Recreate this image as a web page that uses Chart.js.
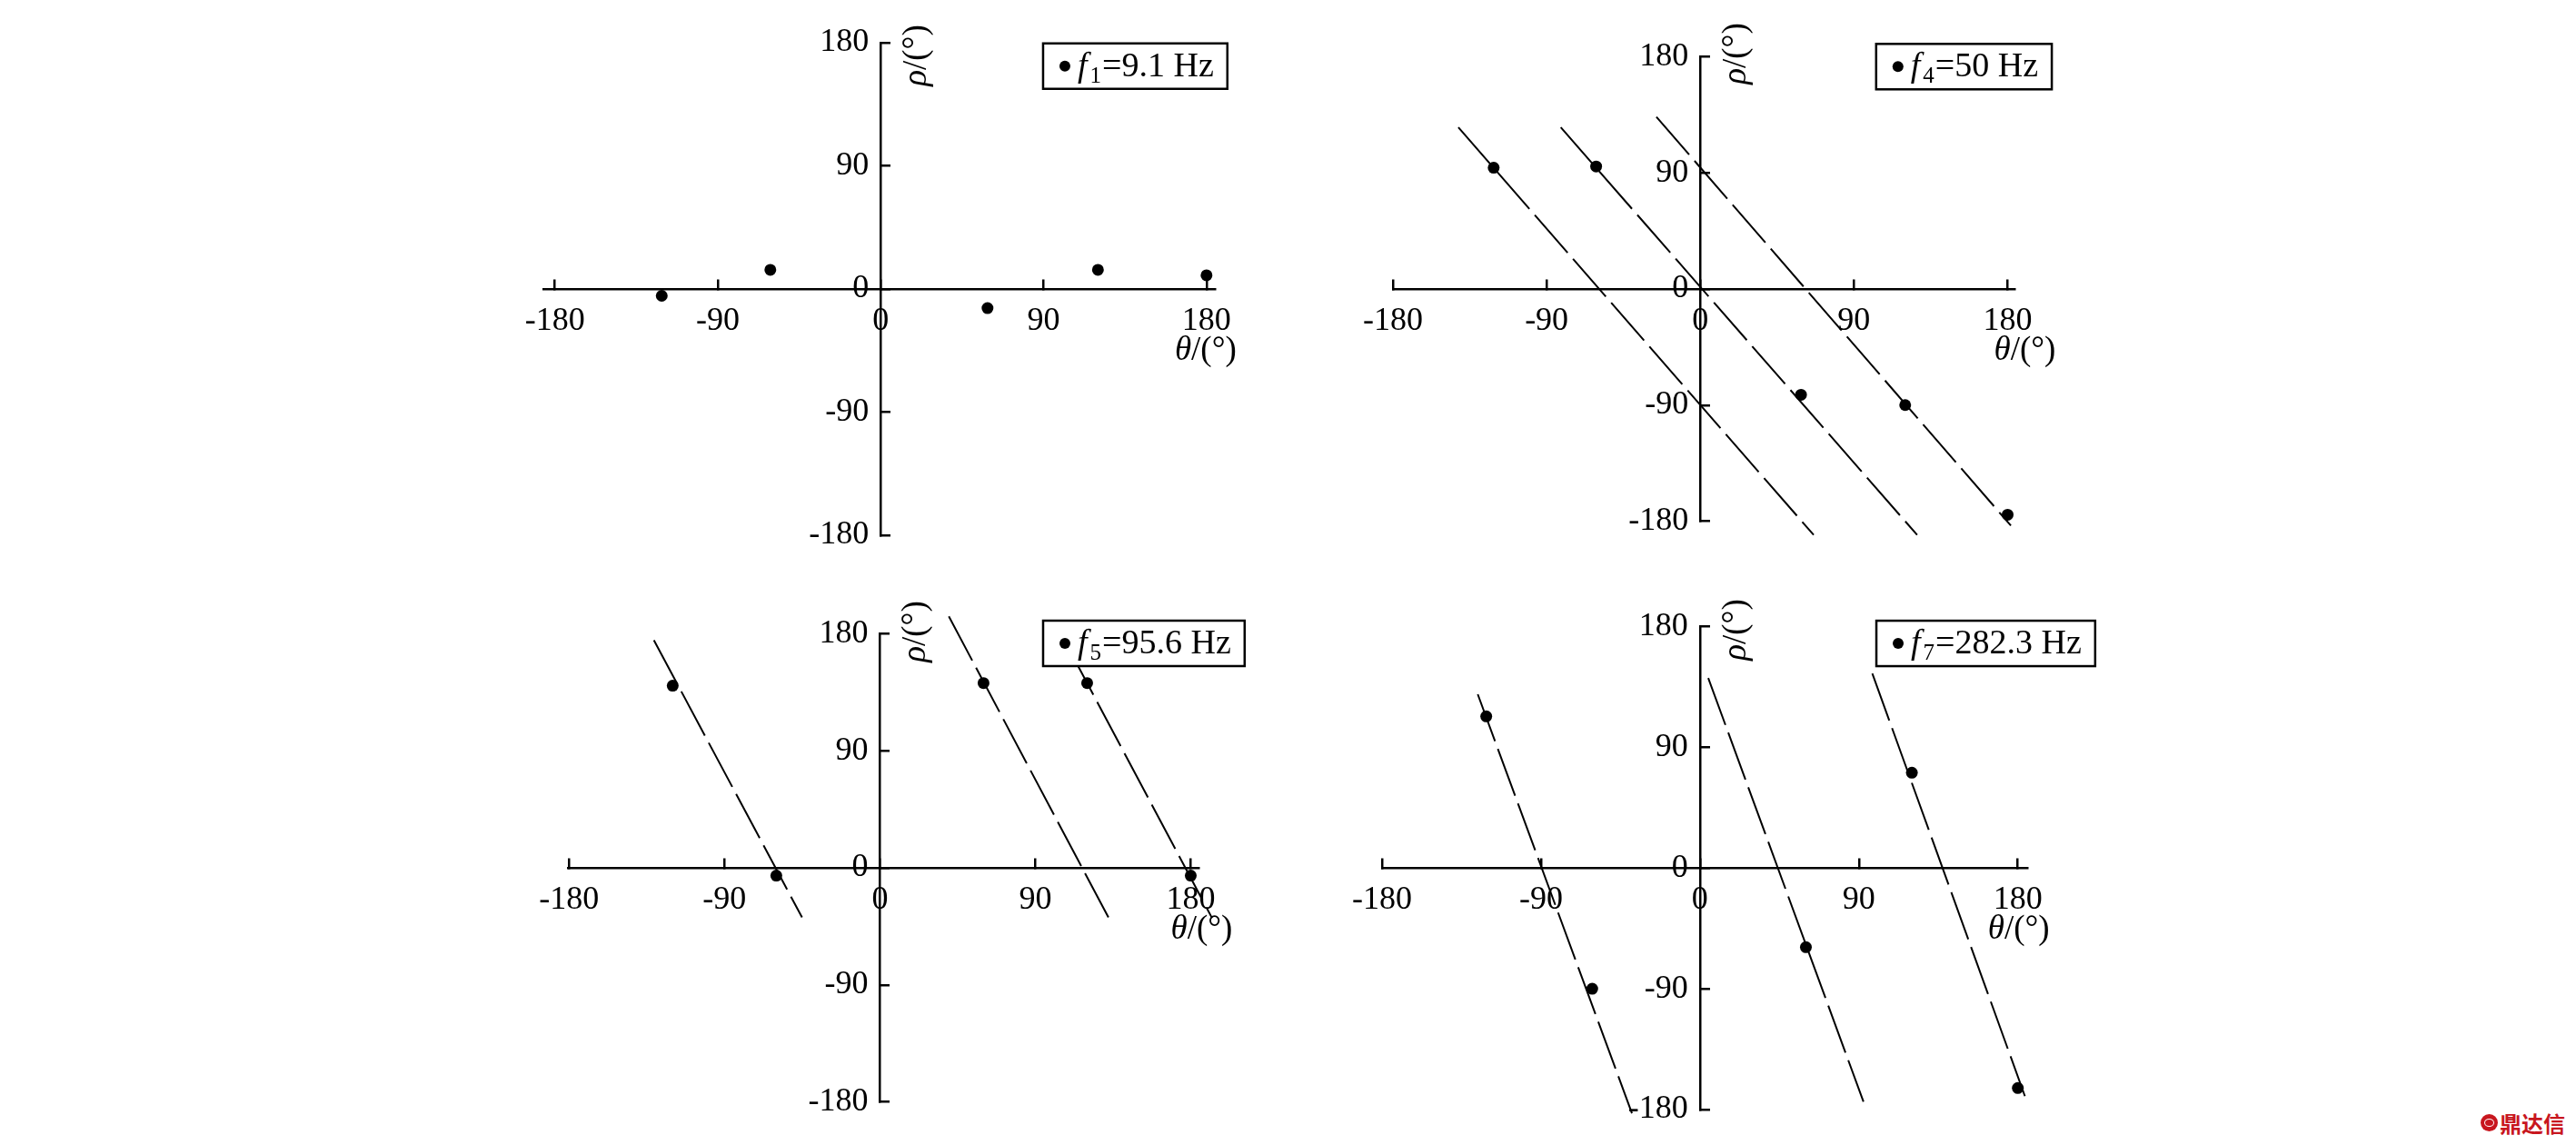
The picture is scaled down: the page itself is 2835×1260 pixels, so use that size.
<!DOCTYPE html>
<html><head><meta charset="utf-8">
<script src="https://cdn.jsdelivr.net/npm/chart.js@4.4.1/dist/chart.umd.min.js"></script>
<style>
html,body{margin:0;padding:0;background:#fff;}
body{width:2835px;height:1260px;position:relative;overflow:hidden;}
canvas{position:absolute;}
#wm{position:absolute;left:2730px;top:1221px;height:28px;display:flex;align-items:center;font-family:"Noto Sans CJK SC";font-weight:700;font-size:24px;color:#c8161e;}
#wm .logo{display:inline-block;width:19px;height:19px;border-radius:50%;background:#c8161e;margin-right:2px;position:relative;}
#wm .logo:after{content:"";position:absolute;left:4px;top:5px;width:11px;height:9px;border-radius:50%;border:1.5px solid #fff;box-sizing:border-box;}
</style></head><body>
<canvas id="c1"></canvas><canvas id="c2"></canvas><canvas id="c3"></canvas><canvas id="c4"></canvas>
<div id="wm"><span class="logo"></span>鼎达信</div>
<script>
// ---- tick labels ----
const tickValues = [-180, -90, 0, 90, 180];

// ---- Panel 1: f1 = 9.1 Hz ----
const p1Theta = [-121, -61, 59, 120, 180];
const p1Rho   = [-5, 14, -14, 14, 10];
const p1LineTheta = [];
const p1LineRho   = [];

// ---- Panel 2: f4 = 50 Hz ----
const p2Theta = [-121, -61, 59, 120, 180];
const p2Rho   = [94, 95, -82, -90, -175];
const p2LineTheta = [[-141.7, 66.4], [-81.7, 127], [-25.7, 181.9]];
const p2LineRho   = [[125.3, -190.7], [125.3, -190.7], [133.4, -183.5]];

// ---- Panel 3: f5 = 95.6 Hz ----
const p3Theta = [-120, -60, 60, 120, 180];
const p3Rho   = [140, -6, 142, 142, -6];
const p3LineTheta = [[-130.9, -45.1], [39.9, 133.2], [110, 192.3]];
const p3LineRho   = [[175, -38.1], [193.3, -40.3], [167, -38.5]];

// ---- Panel 4: f7 = 282.3 Hz ----
const p4Theta = [-121, -61, 60, 120, 180];
const p4Rho   = [113, -90, -59, 71, -164];
const p4LineTheta = [[-125.8, -38.5], [4.7, 92.6], [97.6, 184]];
const p4LineRho   = [[129.5, -182.8], [141.6, -174.2], [145, -170]];

// ---- legend texts ----
const legendSubs  = ['1', '4', '5', '7'];
const legendRests = ['=9.1 Hz', '=50 Hz', '=95.6 Hz', '=282.3 Hz'];

const SERIF = '"Liberation Serif", "Times New Roman", serif';

const panels = [
  {id:'c1', left:540,  top:0,   w:880, h:640, pad:{left:58, right:83, top:47, bottom:51},
   xMin:-186.4, xMax:184.6, yLabAt:-6.5, theta:p1Theta, rho:p1Rho, lt:p1LineTheta, lr:p1LineRho,
   leg:{x:89.7, y:179.5}, thDx:-1, rhoDy:14},
  {id:'c2', left:1440, top:0,   w:900, h:640, pad:{left:93, right:123, top:62.5, bottom:66.5},
   xMin:-180, xMax:184, yLabAt:-6.9, theta:p2Theta, rho:p2Rho, lt:p2LineTheta, lr:p2LineRho,
   leg:{x:103, y:190}, thDx:19, rhoDy:-3.5},
  {id:'c3', left:540,  top:640, w:880, h:620, pad:{left:84.8, right:100.4, top:57.3, bottom:47.3},
   xMin:-180.8, xMax:184.8, yLabAt:-6.8, theta:p3Theta, rho:p3Rho, lt:p3LineTheta, lr:p3LineRho,
   leg:{x:94.5, y:190}, thDx:12, rhoDy:-2.3},
  {id:'c4', left:1440, top:640, w:900, h:620, pad:{left:81, right:108.4, top:49.4, bottom:39},
   xMin:-180, xMax:185.6, yLabAt:-6.7, theta:p4Theta, rho:p4Rho, lt:p4LineTheta, lr:p4LineRho,
   leg:{x:99.9, y:184.3}, thDx:1, rhoDy:3.6}
];

const decorPlugin = {
  id: 'decor',
  afterDatasetsDraw(chart) {
    const P = chart.options.plugins.decor;
    const ctx = chart.ctx, xs = chart.scales.x, ys = chart.scales.y;
    const left = xs.getPixelForValue(P.leg.x), top = ys.getPixelForValue(P.leg.y);
    ctx.save();
    const mainFont = '38px ' + SERIF, itFont = 'italic 38px ' + SERIF, subFont = '25px ' + SERIF;
    ctx.font = itFont; const wf = ctx.measureText('f').width;
    ctx.font = subFont; const ws = ctx.measureText(P.sub).width;
    ctx.font = mainFont; const wr = ctx.measureText(P.rest).width;
    const textW = wf + 3 + ws + 1 + wr;
    const boxW = 38 + textW + 15, boxH = 50;
    ctx.fillStyle = '#fff'; ctx.fillRect(left, top, boxW, boxH);
    ctx.lineWidth = 2.5; ctx.strokeStyle = '#000'; ctx.strokeRect(left, top, boxW, boxH);
    ctx.beginPath(); ctx.arc(left + 24, top + 25, 6, 0, 2 * Math.PI); ctx.fillStyle = '#000'; ctx.fill();
    let tx = left + 38; const base = top + 36;
    ctx.textBaseline = 'alphabetic'; ctx.textAlign = 'left';
    ctx.font = itFont; ctx.fillText('f', tx, base); tx += wf + 3;
    ctx.font = subFont; ctx.fillText(P.sub, tx, base + 7); tx += ws + 1;
    ctx.font = mainFont; ctx.fillText(P.rest, tx, base);
    ctx.restore();
  },
  afterDraw(chart) {
    const P = chart.options.plugins.decor;
    const ctx = chart.ctx, xs = chart.scales.x, ys = chart.scales.y;
    const x0 = xs.getPixelForValue(0), y0 = ys.getPixelForValue(0);
    ctx.save();
    ctx.fillStyle = '#000';
    ctx.textBaseline = 'alphabetic'; ctx.textAlign = 'left';
    const it = 'italic 37px ' + SERIF, rg = '37px ' + SERIF;
    ctx.font = it; const w1 = ctx.measureText('θ').width;
    ctx.font = rg; const w2 = ctx.measureText('/(°)').width;
    const cx = xs.getPixelForValue(180) + P.thDx;
    const sx = cx - (w1 + w2) / 2;
    const by = y0 + 78;
    ctx.font = it; ctx.fillText('θ', sx, by);
    ctx.font = rg; ctx.fillText('/(°)', sx + w1, by);
    ctx.font = it; const r1 = ctx.measureText('ρ').width;
    ctx.font = rg; const r2 = ctx.measureText('/(°)').width;
    const cy = ys.getPixelForValue(180) + P.rhoDy;
    ctx.translate(x0 + 50, cy);
    ctx.rotate(-Math.PI / 2);
    const s0 = -(r1 + r2) / 2;
    ctx.font = it; ctx.fillText('ρ', s0, 0);
    ctx.font = rg; ctx.fillText('/(°)', s0 + r1, 0);
    ctx.restore();
  }
};

panels.forEach((p, idx) => {
  const cv = document.getElementById(p.id);
  cv.width = p.w; cv.height = p.h;
  cv.style.left = p.left + 'px'; cv.style.top = p.top + 'px';
  cv.style.width = p.w + 'px'; cv.style.height = p.h + 'px';
  const datasets = [];
  p.lt.forEach((lt, i) => {
    datasets.push({
      showLine: true,
      data: lt.map((t, j) => ({x: t, y: p.lr[i][j]})),
      borderColor: '#000', borderWidth: 2, borderDash: [55, 9],
      pointRadius: 0, pointHoverRadius: 0, clip: false, order: 2
    });
  });
  datasets.push({
    data: p.theta.map((t, i) => ({x: t, y: p.rho[i]})),
    pointRadius: 6.5, pointHoverRadius: 6.5, pointStyle: 'circle',
    backgroundColor: '#000', borderColor: '#000', borderWidth: 0, clip: false, order: 1
  });
  const tickFont = {family: SERIF, size: 36};
  const fixTicks = s => { s.ticks = tickValues.map(v => ({value: v})); };
  new Chart(cv, {
    type: 'scatter',
    data: {datasets},
    options: {
      responsive: false, animation: false, devicePixelRatio: 1, events: [],
      layout: {padding: p.pad},
      plugins: {
        legend: {display: false}, tooltip: {enabled: false},
        decor: {leg: p.leg, sub: legendSubs[idx], rest: legendRests[idx], thDx: p.thDx, rhoDy: p.rhoDy}
      },
      scales: {
        x: {
          type: 'linear', position: {y: 0}, min: p.xMin, max: p.xMax,
          afterBuildTicks: fixTicks,
          grid: {display: true, drawOnChartArea: false, drawTicks: true, tickLength: -12, color: '#000', lineWidth: 2.5},
          border: {display: true, color: '#000', width: 2.5},
          ticks: {color: '#000', font: tickFont, padding: 26, maxRotation: 0, autoSkip: false}
        },
        y: {
          type: 'linear', position: {x: 0}, min: -180, max: 180,
          afterBuildTicks: fixTicks,
          grid: {display: true, drawOnChartArea: false, drawTicks: true, tickLength: -12, color: '#000', lineWidth: 2.5},
          border: {display: true, color: '#000', width: 2.5},
          ticks: {display: false}
        },
        yLabels: {
          type: 'linear', axis: 'y', position: {x: p.yLabAt}, min: -180, max: 180,
          afterBuildTicks: fixTicks,
          grid: {display: false, drawTicks: false},
          border: {display: false},
          ticks: {color: '#000', font: tickFont, padding: 0, autoSkip: false}
        }
      }
    },
    plugins: [decorPlugin]
  });
});
</script>
</body></html>
